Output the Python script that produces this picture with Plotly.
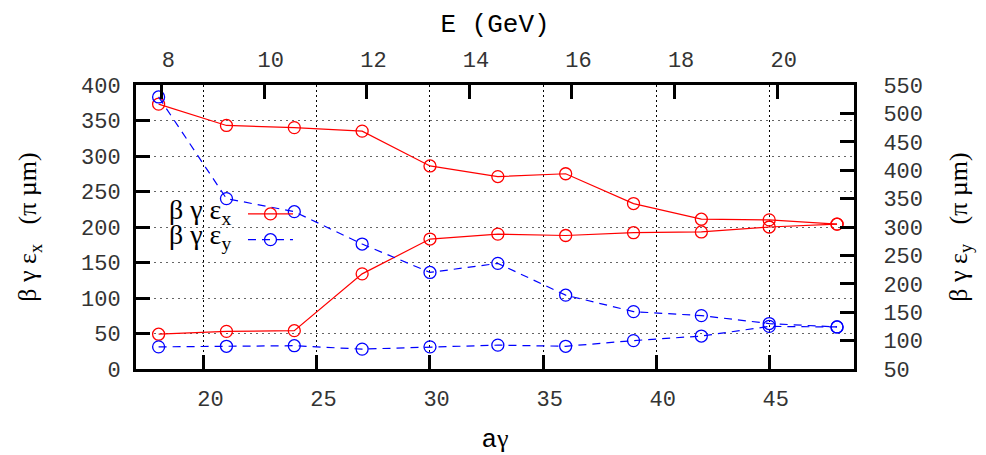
import plotly.graph_objects as go

# aγ values
a_gamma = [18, 21, 24, 27, 30, 33, 36, 39, 42, 45, 48]
# βγεx (left axis), two branches
ex_upper = [373, 343, 340, 335, 286, 271, 275, 233, 211, 210, 204]
ex_lower = [49, 53, 54, 134, 183, 190, 188, 192, 193, 200, 204]
# βγεy (right axis), two branches
ey_upper = [529, 350, 327, 270, 220, 236, 180, 151, 144, 130, 124]
ey_lower = [89, 90, 91, 85, 89, 92, 90, 100, 108, 125, 124]

left_ticks = [0, 50, 100, 150, 200, 250, 300, 350, 400]
right_ticks = [50, 100, 150, 200, 250, 300, 350, 400, 450, 500, 550]
bottom_ticks = [20, 25, 30, 35, 40, 45]
top_ticks = [8, 10, 12, 14, 16, 18, 20]

RED = "#ff0000"
BLUE = "#0000ff"
MONO = "Liberation Mono"
SERIF = "Liberation Serif"
NB = "\u00a0"

fig = go.Figure()
fig.add_trace(go.Scatter(x=a_gamma, y=ex_upper, mode="lines+markers", name=" ",
                         legendgroup="ex", showlegend=True,
                         line=dict(color=RED, width=1.2),
                         marker=dict(symbol="circle-open", size=12, color=RED, line=dict(width=1.3))))
fig.add_trace(go.Scatter(x=a_gamma, y=ex_lower, mode="lines+markers", name=" ",
                         legendgroup="ex", showlegend=False,
                         line=dict(color=RED, width=1.2),
                         marker=dict(symbol="circle-open", size=12, color=RED, line=dict(width=1.3))))
fig.add_trace(go.Scatter(x=a_gamma, y=ey_upper, mode="lines+markers", name="  ",
                         legendgroup="ey", showlegend=True, yaxis="y2",
                         line=dict(color=BLUE, width=1.2, dash="8px,6px"),
                         marker=dict(symbol="circle-open", size=12, color=BLUE, line=dict(width=1.3))))
fig.add_trace(go.Scatter(x=a_gamma, y=ey_lower, mode="lines+markers", name="  ",
                         legendgroup="ey", showlegend=False, yaxis="y2",
                         line=dict(color=BLUE, width=1.2, dash="8px,6px"),
                         marker=dict(symbol="circle-open", size=12, color=BLUE, line=dict(width=1.3))))
# empty trace so that the top energy axis is drawn
fig.add_trace(go.Scatter(x=top_ticks, y=[None] * len(top_ticks), xaxis="x2", mode="lines",
                         showlegend=False, hoverinfo="skip"))

tickfont = dict(family=MONO, size=22, color="#333333")

fig.update_layout(
    width=986, height=455,
    margin=dict(l=136, r=132, t=85, b=86),
    paper_bgcolor="white", plot_bgcolor="white",
    xaxis=dict(range=[17, 48.75], tickvals=bottom_ticks, ticktext=[NB + str(t) for t in bottom_ticks],
               ticks="inside", ticklen=14, tickwidth=2.5, automargin=False,
               tickcolor="black", showline=True, linewidth=3, linecolor="black",
               showgrid=True, gridcolor="black", gridwidth=1, griddash="2px,3px",
               zeroline=False, tickfont=tickfont, ticklabelstandoff=8,
               title=dict(text="a<span style='font-family:Liberation Serif'>γ</span>",
                          font=dict(family=MONO, size=26, color="black"), standoff=17)),
    xaxis2=dict(range=[7.5, 21.5], overlaying="x", side="top", tickvals=top_ticks,
                ticktext=[NB + str(t) for t in top_ticks], automargin=False,
                ticks="inside", ticklen=14, tickwidth=2.5, tickcolor="black",
                showline=True, linewidth=3, linecolor="black", showgrid=False, zeroline=False,
                tickfont=tickfont, ticklabelstandoff=6,
                title=dict(text="E (GeV)", font=dict(family=MONO, size=26, color="black"), standoff=10)),
    yaxis=dict(range=[0, 400], tickvals=left_ticks, ticks="inside", ticklen=14, tickwidth=2.5,
               tickcolor="black", showline=True, linewidth=3, linecolor="black", automargin=False,
               showgrid=True, gridcolor="#666666", gridwidth=1, griddash="2px,4px",
               zeroline=False, tickfont=tickfont, ticklabelstandoff=8,
               title=dict(text="β γ ε<sub>x</sub>   (π µm)", font=dict(family=SERIF, size=26, color="black"),
                          standoff=37)),
    yaxis2=dict(range=[50, 550], overlaying="y", side="right", tickvals=right_ticks, automargin=False,
                ticks="inside", ticklen=14, tickwidth=2.5, tickcolor="black",
                showline=True, linewidth=3, linecolor="black", showgrid=False, zeroline=False,
                tickfont=tickfont, ticklabelstandoff=22,
                title=dict(text="β γ ε<sub>y</sub>   (π µm)", font=dict(family=SERIF, size=26, color="black"),
                           standoff=27)),
    legend=dict(x=0.149, y=0.609, xanchor="left", yanchor="top", bgcolor="rgba(0,0,0,0)",
                font=dict(family=SERIF, size=17.5), itemwidth=45, tracegroupgap=0),
    showlegend=True,
)

fig.add_annotation(xref="paper", yref="paper", x=0.135, y=0.556, xanchor="right", yanchor="middle",
                   text="β γ ε<sub>x</sub>", showarrow=False, font=dict(family=SERIF, size=28, color="black"))
fig.add_annotation(xref="paper", yref="paper", x=0.135, y=0.465, xanchor="right", yanchor="middle",
                   text="β γ ε<sub>y</sub>", showarrow=False, font=dict(family=SERIF, size=28, color="black"))

fig.write_html("out.html", config={"displayModeBar": False},
               post_script="document.body.style.margin='0px';")
